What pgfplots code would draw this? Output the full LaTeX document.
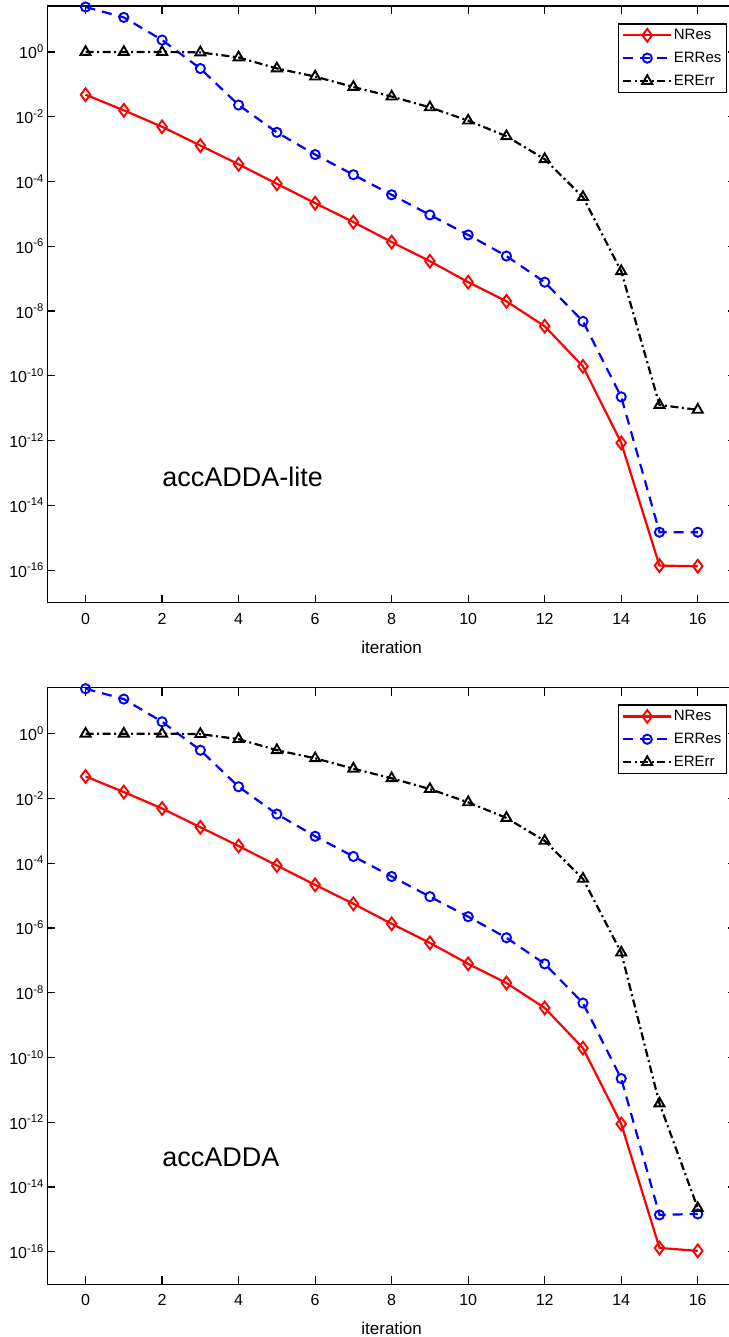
\documentclass[border=0pt]{standalone}
\usepackage{fontspec}
\setmainfont{Liberation Sans}
\usepackage{pgfplots}
\usepackage{pgfplotstable}
\pgfplotsset{compat=1.18}

\pgfplotstableread{
it  nres     erres    ererr
0   4.8e-2   24.5     1.0
1   1.58e-2  11.7     1.0
2   4.9e-3   2.34     1.0
3   1.29e-3  0.309    0.97
4   3.4e-4   2.3e-2   0.68
5   8.5e-5   3.3e-3   0.31
6   2.15e-5  6.8e-4   0.174
7   5.6e-6   1.62e-4  8.3e-2
8   1.35e-6  3.9e-5   4.2e-2
9   3.47e-7  9.3e-6   1.95e-2
10  7.8e-8   2.24e-6  7.6e-3
11  2.0e-8   5.0e-7   2.5e-3
12  3.4e-9   7.8e-8   4.9e-4
13  1.95e-10 4.8e-9   3.3e-5
14  8.5e-13  2.24e-11 1.7e-7
15  1.38e-16 1.48e-15 1.26e-11
16  1.32e-16 1.48e-15 8.9e-12
}\toptable

\pgfplotstableread{
it  nres     erres    ererr
0   4.8e-2   24.5     1.0
1   1.58e-2  11.7     1.0
2   4.9e-3   2.34     1.0
3   1.29e-3  0.309    0.97
4   3.4e-4   2.3e-2   0.68
5   8.5e-5   3.3e-3   0.31
6   2.15e-5  6.8e-4   0.174
7   5.6e-6   1.62e-4  8.3e-2
8   1.35e-6  3.9e-5   4.2e-2
9   3.47e-7  9.3e-6   1.95e-2
10  7.8e-8   2.24e-6  7.6e-3
11  2.0e-8   5.0e-7   2.5e-3
12  3.4e-9   7.8e-8   4.9e-4
13  1.95e-10 4.8e-9   3.3e-5
14  8.9e-13  2.24e-11 1.74e-7
15  1.32e-16 1.38e-15 3.8e-12
16  1.07e-16 1.48e-15 2.24e-15
}\bottable

\pgfplotsset{
 legend image code/.code={\draw[mark repeat=2,mark phase=2,#1] plot coordinates {(0pt,0pt) (24pt,0pt) (48pt,0pt)};},
}

\begin{document}
\begin{tikzpicture}
\begin{semilogyaxis}[at={(47.3pt,-6pt)},
  scale only axis, width=688.7pt, height=596.5pt, anchor=north west,
  xmin=-1, xmax=17, ymin=1e-17, ymax=26.3,
  xtick={0,2,...,16},
  ytick={1e-16,1e-14,1e-12,1e-10,1e-8,1e-6,1e-4,1e-2,1},
  yticklabels={10\textsuperscript{-16},10\textsuperscript{-14},10\textsuperscript{-12},10\textsuperscript{-10},10\textsuperscript{-8},10\textsuperscript{-6},10\textsuperscript{-4},10\textsuperscript{-2},10\textsuperscript{0}},
  yminorticks=false, xminorticks=false,
  /pgf/number format/assume math mode=true,
  tick align=inside, major tick length=8pt,
  every tick/.append style={black, line width=1.2pt},
  axis line style={line width=1.4pt},
  tick label style={font=\fontsize{16}{19}\selectfont},
  xticklabel style={yshift=-7pt},
  xlabel={iteration},
  xlabel style={font=\fontsize{17}{20}\selectfont, at={(axis description cs:0.5,0)}, anchor=base, yshift=-50.5pt},
  legend cell align=left,
  legend style={at={(rel axis cs:0.828,0.971)}, anchor=north west, draw=black, line width=1.2pt, fill=white,
    font=\fontsize{15}{18}\selectfont, inner sep=4pt, row sep=8pt, nodes={inner sep=1.5pt}}]
\addplot[red, line width=2.2pt, mark=diamond, mark size=6.4pt, mark options={solid, line width=1.9pt}] table[x=it,y=nres] {\toptable};
\addlegendentry{NRes}
\addplot[blue, line width=2.2pt, dash pattern=on 10pt off 7pt, mark=o, mark size=4.6pt, mark options={solid, line width=1.9pt}] table[x=it,y=erres] {\toptable};
\addlegendentry{ERRes}
\addplot[black, line width=2.2pt, dash pattern=on 8pt off 3.5pt on 2pt off 3.5pt, mark=triangle, mark size=5.8pt, mark options={solid, line width=1.9pt}] table[x=it,y=ererr] {\toptable};
\addlegendentry{ERErr}
\node[anchor=base west, font=\fontsize{27}{32}\selectfont, inner sep=0pt] at (axis cs:2,3.7e-14) {accADDA-lite};
\end{semilogyaxis}
\begin{semilogyaxis}[at={(47.3pt,-687.7pt)},
  scale only axis, width=688.7pt, height=596.5pt, anchor=north west,
  xmin=-1, xmax=17, ymin=1e-17, ymax=26.3,
  xtick={0,2,...,16},
  ytick={1e-16,1e-14,1e-12,1e-10,1e-8,1e-6,1e-4,1e-2,1},
  yticklabels={10\textsuperscript{-16},10\textsuperscript{-14},10\textsuperscript{-12},10\textsuperscript{-10},10\textsuperscript{-8},10\textsuperscript{-6},10\textsuperscript{-4},10\textsuperscript{-2},10\textsuperscript{0}},
  yminorticks=false, xminorticks=false,
  /pgf/number format/assume math mode=true,
  tick align=inside, major tick length=8pt,
  every tick/.append style={black, line width=1.2pt},
  axis line style={line width=1.4pt},
  tick label style={font=\fontsize{16}{19}\selectfont},
  xticklabel style={yshift=-7pt},
  xlabel={iteration},
  xlabel style={font=\fontsize{17}{20}\selectfont, at={(axis description cs:0.5,0)}, anchor=base, yshift=-50.5pt},
  legend cell align=left,
  legend style={at={(rel axis cs:0.828,0.972)}, anchor=north west, draw=black, line width=1.2pt, fill=white,
    font=\fontsize{15}{18}\selectfont, inner sep=4pt, row sep=8pt, nodes={inner sep=1.5pt}}]
\addplot[red, line width=2.2pt, mark=diamond, mark size=6.4pt, mark options={solid, line width=1.9pt}] table[x=it,y=nres] {\bottable};
\addlegendentry{NRes}
\addplot[blue, line width=2.2pt, dash pattern=on 10pt off 7pt, mark=o, mark size=4.6pt, mark options={solid, line width=1.9pt}] table[x=it,y=erres] {\bottable};
\addlegendentry{ERRes}
\addplot[black, line width=2.2pt, dash pattern=on 8pt off 3.5pt on 2pt off 3.5pt, mark=triangle, mark size=5.8pt, mark options={solid, line width=1.9pt}] table[x=it,y=ererr] {\bottable};
\addlegendentry{ERErr}
\node[anchor=base west, font=\fontsize{27}{32}\selectfont, inner sep=0pt] at (axis cs:2,4.3e-14) {accADDA};
\end{semilogyaxis}
\pgfresetboundingbox
\path[use as bounding box] (0pt,0pt) rectangle (728pt,-1337pt);
\end{tikzpicture}
\end{document}
